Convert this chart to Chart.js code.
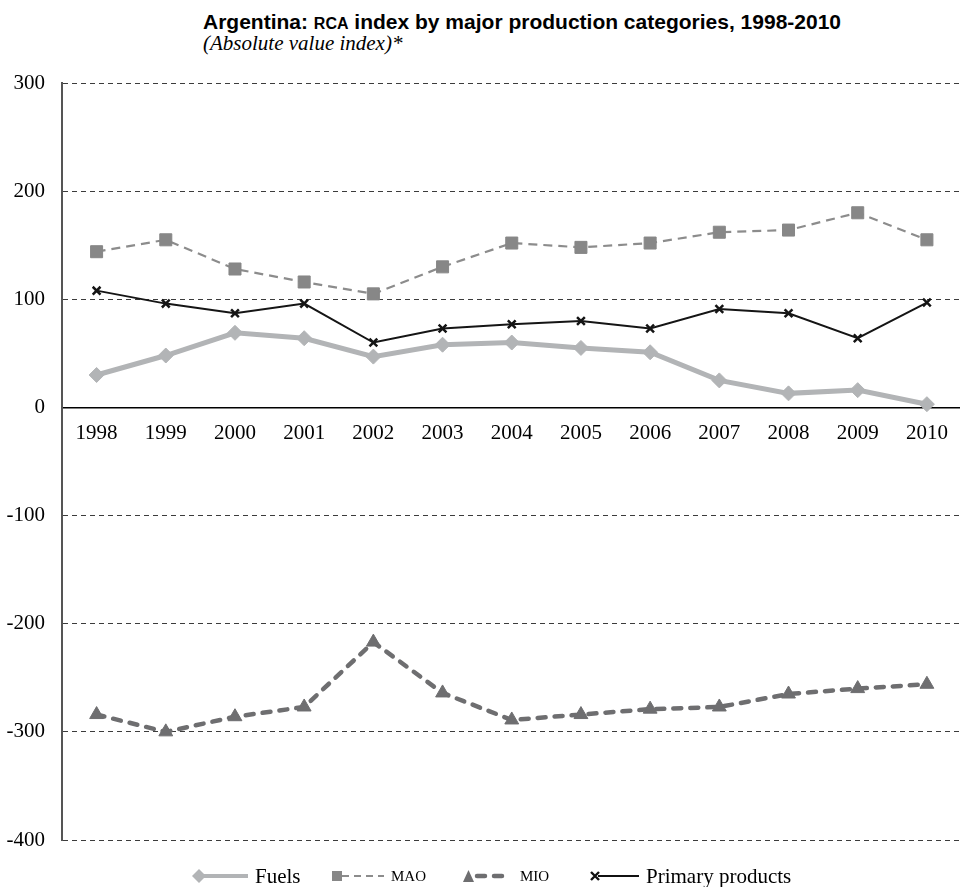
<!DOCTYPE html>
<html>
<head>
<meta charset="utf-8">
<script src="https://cdn.jsdelivr.net/npm/chart.js@4"></script>
<style>
html, body { margin: 0; padding: 0; background: #fff; overflow: hidden; width: 960px; height: 887px; }
#contenedor { position: absolute; left: 0; top: 0; width: 971px; height: 887px; }
.titulo { position: absolute; left: 203px; top: 10px; font: bold 21px "Liberation Sans", Arial, sans-serif; line-height: 24px; color: #000; white-space: nowrap; }
.titulo .sc { font-size: 16px; }
.subtitulo { position: absolute; left: 203px; top: 31px; font: italic 21px "Liberation Serif", serif; line-height: 24px; color: #000; white-space: nowrap; }
.item { position: absolute; top: 864px; height: 24px; display: flex; align-items: center; font: 21px "Liberation Serif", serif; color: #000; white-space: nowrap; }
.item svg { display: block; margin-right: 7px; }
.item .sc { font-size: 15px; }
</style>
</head>
<body>
<div class="titulo">Argentina: <span class="sc">RCA</span> index by major production categories, 1998-2010</div>
<div class="subtitulo">(Absolute value index)*</div>
<div id="contenedor"><canvas id="graficaRCA" width="971" height="887"></canvas></div>

<div class="item" style="left:191px">
  <svg width="57" height="24"><line x1="8" y1="12" x2="57" y2="12" stroke="#b2b4b6" stroke-width="4"/><polygon points="1,12 8,5 15,12 8,19" fill="#b2b4b6"/></svg>
  <span>Fuels</span>
</div>
<div class="item" style="left:331px">
  <svg width="53" height="24"><line x1="11" y1="12" x2="53" y2="12" stroke="#8c8c8c" stroke-width="2" stroke-dasharray="7,5"/><rect x="1" y="7" width="10" height="10" fill="#878787"/></svg>
  <span class="sc">MAO</span>
</div>
<div class="item" style="left:462px">
  <svg width="51" height="24"><line x1="15" y1="12" x2="49" y2="12" stroke="#6e6e70" stroke-width="4.5" stroke-dasharray="8,9" stroke-linecap="round"/><polygon points="1,18 6.5,6 12,18" fill="#6e6e70"/></svg>
  <span class="sc">MIO</span>
</div>
<div class="item" style="left:589px">
  <svg width="50" height="24"><line x1="9" y1="12" x2="50" y2="12" stroke="#111" stroke-width="2"/><path d="M2,8 L10,16 M10,8 L2,16" stroke="#111" stroke-width="2.4"/></svg>
  <span>Primary products</span>
</div>

<script>
// datos
var anios = ['1998', '1999', '2000', '2001', '2002', '2003', '2004', '2005', '2006', '2007', '2008', '2009', '2010']
var combustibles = [30, 48, 69, 64, 47, 58, 60, 55, 51, 25, 13, 16, 3]
var mao = [144, 155, 128, 116, 105, 130, 152, 148, 152, 162, 164, 180, 155]
var mio = [-284, -300, -286, -277, -217, -264, -289, -284, -279, -277, -265, -260, -256]
var primarios = [108, 96, 87, 96, 60, 73, 77, 80, 73, 91, 87, 64, 97]
var nombres = ['Fuels', 'MAO', 'MIO', 'Primary products']

var fuenteSerif = 'Liberation Serif'

function parametrosGrafica() {
    var chart = new Chart(document.getElementById('graficaRCA').getContext('2d'), {
        type: 'line',
        data: {
            labels: anios,
            datasets: [{
                label: nombres[0],
                data: combustibles,
                borderColor: '#b2b4b6',
                backgroundColor: '#b2b4b6',
                borderWidth: 5,
                pointStyle: 'rectRot',
                pointRadius: 7.5,
                pointBorderWidth: 1,
                tension: 0
            }, {
                label: nombres[1],
                data: mao,
                borderColor: '#8c8c8c',
                backgroundColor: '#878787',
                pointBorderColor: '#878787',
                borderWidth: 2.2,
                borderDash: [9, 6],
                pointStyle: 'rect',
                pointRadius: 8.5,
                pointBorderWidth: 1,
                tension: 0
            }, {
                label: nombres[2],
                data: mio,
                borderColor: '#6e6e70',
                backgroundColor: '#6e6e70',
                borderWidth: 4.5,
                borderDash: [8, 9],
                borderCapStyle: 'round',
                pointStyle: 'triangle',
                pointRadius: 8,
                pointBorderWidth: 1,
                tension: 0
            }, {
                label: nombres[3],
                data: primarios,
                borderColor: '#151515',
                backgroundColor: '#151515',
                borderWidth: 2,
                pointStyle: 'crossRot',
                pointRadius: 5.5,
                pointBorderWidth: 2.5,
                tension: 0
            }]
        },
        options: {
            responsive: false,
            animation: false,
            layout: {
                padding: { top: 83, bottom: 47, left: 0, right: 0 }
            },
            plugins: {
                legend: { display: false },
                title: { display: false },
                tooltip: { enabled: false }
            },
            scales: {
                x: {
                    position: { y: 0 },
                    offset: true,
                    afterFit: function (escala) {
                        escala.paddingLeft = 0
                        escala.paddingRight = 0
                    },
                    grid: { display: false, drawTicks: false },
                    border: { display: true, color: '#000', width: 1.5 },
                    ticks: {
                        color: '#000',
                        font: { family: fuenteSerif, size: 21 },
                        padding: 13,
                        maxRotation: 0,
                        autoSkip: false
                    }
                },
                y: {
                    min: -400,
                    max: 300,
                    afterFit: function (escala) { escala.width = 62 },
                    grid: {
                        color: function (ctx) {
                            return (ctx.tick && ctx.tick.value === 0) ? 'rgba(0,0,0,0)' : '#3c3c3c'
                        },
                        lineWidth: 1,
                        drawTicks: false
                    },
                    border: { display: true, color: '#555', width: 2, dash: [5, 4] },
                    ticks: {
                        stepSize: 100,
                        color: '#000',
                        font: { family: fuenteSerif, size: 21 },
                        padding: 17
                    }
                }
            }
        }
    });
}

parametrosGrafica()
</script>
</body>
</html>
